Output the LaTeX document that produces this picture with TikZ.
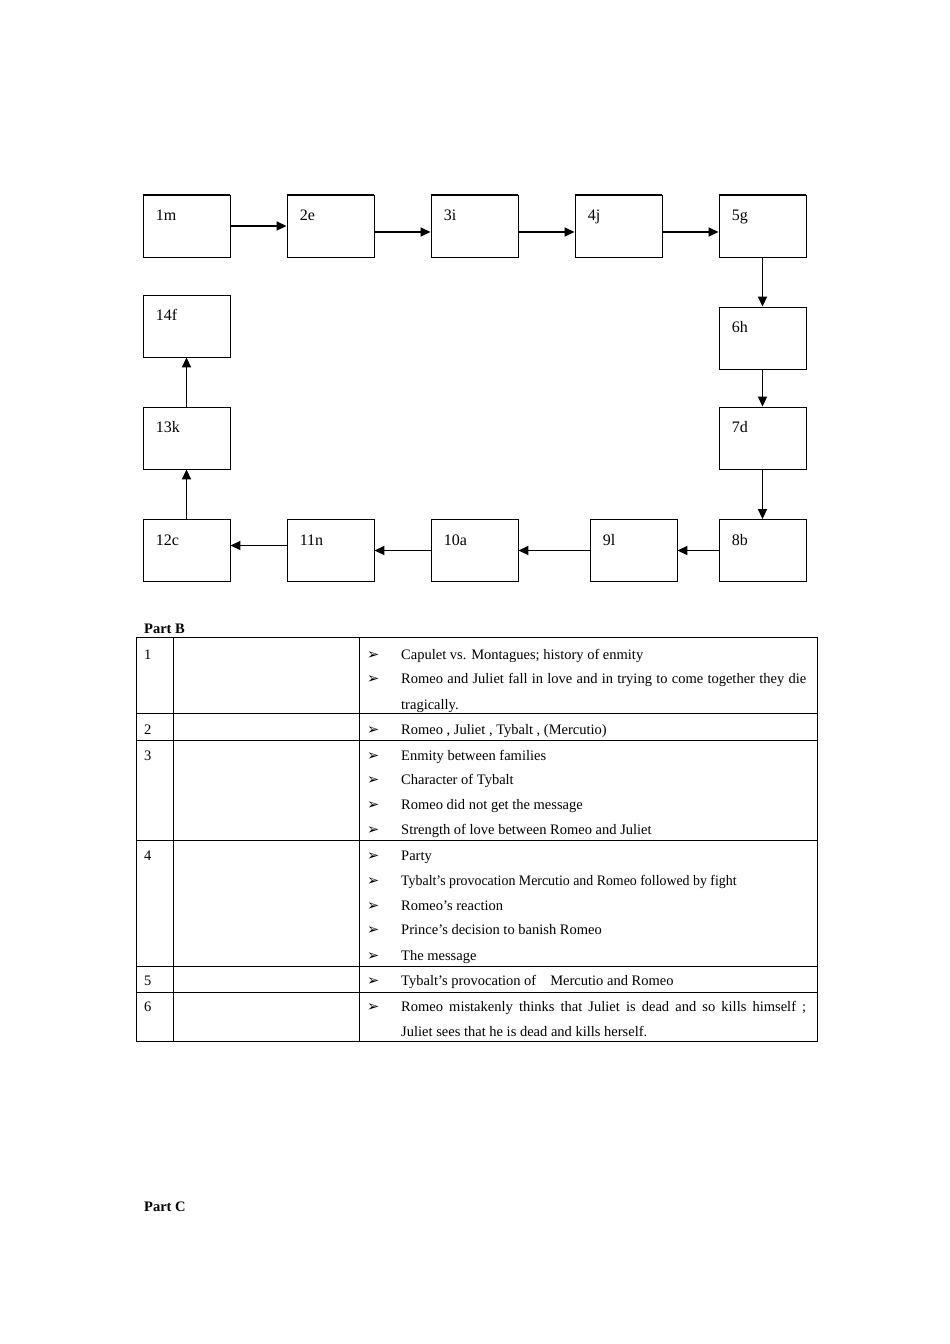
\documentclass[tikz,border=0pt]{standalone}
\usepackage{graphicx}
\usepackage{fontspec}
\setmainfont{Liberation Serif}
\newfontfamily\dejavu{DejaVu Sans}
\usetikzlibrary{arrows.meta}
\newcommand\bx[4]{\node[box, label={[tl]north west:#4}] (#1) at (#2,#3) {};}
\newcommand\bl[3]{\node[tx] (#1) at (367,#2) {\makebox[34pt][l]{\dejavu\fontsize{14.5}{16}\selectfont ➢}#3};}
\newcommand\pl[3]{\node[tx] (#1) at (401,#2) {#3};}
\newcommand\nm[3]{\node[tx] (#1) at (144,#2) {#3};}
\begin{document}
\begin{tikzpicture}[x=1pt,y=-1pt,
  box/.style={draw, line width=0.9pt, minimum width=87pt, minimum height=62pt, inner sep=0pt},
  tl/.style={anchor=base west, inner sep=0pt, xshift=13pt, yshift=-26pt, font=\fontsize{16}{18}\selectfont},
  arr/.style={line width=1.8pt, -{Triangle[length=10pt,width=9pt]}},
  tx/.style={anchor=base west, inner sep=0pt, font=\fontsize{14.5}{17}\selectfont},
  rule/.style={line width=1pt}]
\useasboundingbox (0,0) rectangle (950,1344);
% boxes
\bx{b1}{186.5}{226}{1m}
\bx{b2}{330.5}{226}{2e}
\bx{b3}{474.5}{226}{3i}
\bx{b4}{618.5}{226}{4j}
\bx{b5}{762.5}{226}{5g}
\bx{b6}{762.5}{338}{6h}
\bx{b7}{762.5}{438}{7d}
\bx{b8}{762.5}{550.5}{8b}
\bx{b9}{633.5}{550.5}{9l}
\bx{b10}{474.5}{550.5}{10a}
\bx{b11}{330.5}{550.5}{11n}
\bx{b12}{186.5}{550.5}{12c}
\bx{b13}{186.5}{438}{13k}
\bx{b14}{186.5}{326}{14f}
\foreach \b in {b1,b2,b3,b4,b5}{\draw[line width=1.8pt] (\b.north west) -- (\b.north east);}
% arrows
\draw[arr] (b1.east) -- (b2.west);
\draw[arr] ([yshift=-6pt]b2.east) -- ([yshift=-6pt]b3.west);
\draw[arr] ([yshift=-6pt]b3.east) -- ([yshift=-6pt]b4.west);
\draw[arr] ([yshift=-6pt]b4.east) -- ([yshift=-6pt]b5.west);
\draw[arr] (b5.south) -- (b6.north);
\draw[arr] (b6.south) -- (b7.north);
\draw[arr] (b7.south) -- (b8.north);
\draw[arr] (b8.west) -- (b9.east);
\draw[arr] (b9.west) -- (b10.east);
\draw[arr] (b10.west) -- (b11.east);
\draw[arr] ([yshift=5pt]b11.west) -- ([yshift=5pt]b12.east);
\draw[arr] (b12.north) -- (b13.south);
\draw[arr] (b13.north) -- (b14.south);
% Part B
\node[tx, font=\fontsize{14.5}{17}\selectfont\bfseries] (pb) at (144,633) {Part B};
\draw[rule] (136,637) rectangle (817,1041);
\draw[rule] (173,637) -- (173,1041);
\draw[rule] (359,637) -- (359,1041);
\foreach \yy in {713,740,840,966,992}{\draw[rule] (136,\yy) -- (817,\yy);}
\nm{n1}{659}{1}
\nm{n2}{734}{2}
\nm{n3}{760}{3}
\nm{n4}{860}{4}
\nm{n5}{985}{5}
\nm{n6}{1011}{6}
\bl{r1a}{659}{Capulet vs. Montagues; history of enmity}
\bl{r1b}{683}{\makebox[405pt][s]{Romeo and Juliet fall in love and in trying to come together they die}}
\pl{r1c}{709}{tragically.}
\bl{r2a}{734}{Romeo , Juliet , Tybalt , (Mercutio)}
\bl{r3a}{760}{Enmity between families}
\bl{r3b}{784}{Character of Tybalt}
\bl{r3c}{809}{Romeo did not get the message}
\bl{r3d}{834}{Strength of love between Romeo and Juliet}
\bl{r4a}{860}{Party}
\bl{r4b}{885}{\scalebox{0.957}[1]{Tybalt’s provocation Mercutio and Romeo followed by fight}}
\bl{r4c}{910}{Romeo’s reaction}
\bl{r4d}{934}{Prince’s decision to banish Romeo}
\bl{r4e}{960}{The message}
\bl{r5a}{985}{Tybalt’s provocation of\hspace{14pt}Mercutio and Romeo}
\bl{r6a}{1011}{\makebox[405pt][s]{Romeo mistakenly thinks that Juliet is dead and so kills himself ;}}
\pl{r6b}{1036}{Juliet sees that he is dead and kills herself.}
% Part C
\node[tx, font=\fontsize{14.5}{17}\selectfont\bfseries] (pc) at (144,1211) {Part C};
\end{tikzpicture}
\end{document}
